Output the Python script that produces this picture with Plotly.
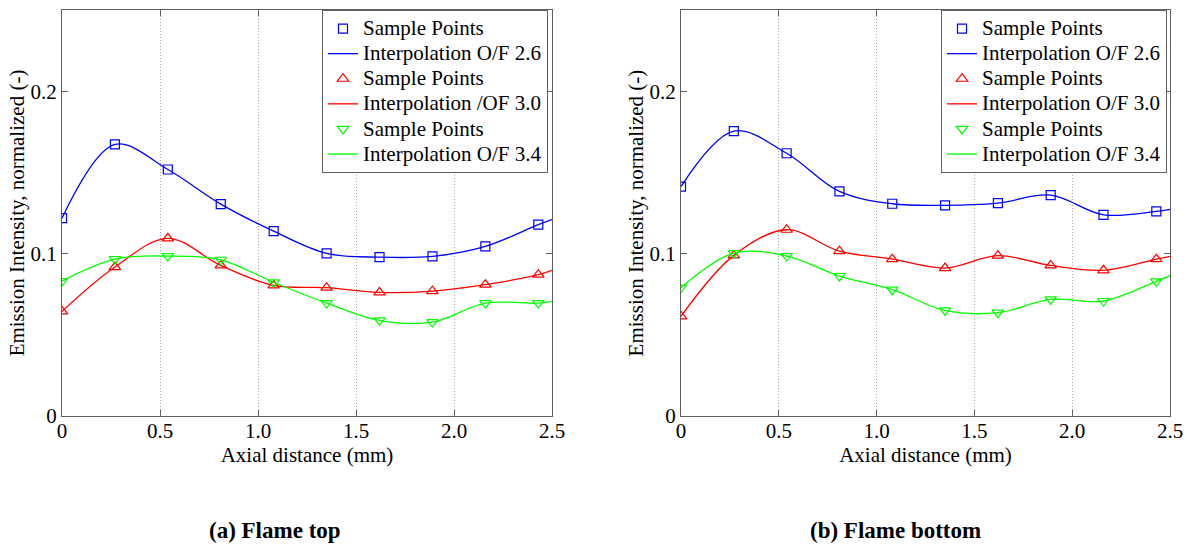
import plotly.graph_objects as go

# ---------------- data ----------------
x_samples = [0.0, 0.27, 0.54, 0.81, 1.08, 1.35, 1.62, 1.89, 2.16, 2.43]
x_end = 2.5  # interpolation curves extend to the axis end

# (a) Flame top
top_of26 = [0.1218, 0.1672, 0.1518, 0.1305, 0.1138, 0.1001, 0.0978, 0.0983, 0.1044, 0.1178]
top_of30 = [0.0644, 0.0917, 0.1094, 0.0927, 0.0804, 0.0790, 0.0761, 0.0769, 0.0809, 0.0870]
top_of34 = [0.0831, 0.0966, 0.0985, 0.0962, 0.0823, 0.0695, 0.0589, 0.0578, 0.0695, 0.0695]
top_end = [0.1209, 0.0897, 0.0706]

# (b) Flame bottom
bot_of26 = [0.1413, 0.1754, 0.1618, 0.1383, 0.1307, 0.1297, 0.1311, 0.1360, 0.1239, 0.1260]
bot_of30 = [0.0614, 0.0989, 0.1147, 0.1015, 0.0966, 0.0911, 0.0987, 0.0927, 0.0897, 0.0966]
bot_of34 = [0.0790, 0.1003, 0.0985, 0.0862, 0.0778, 0.0650, 0.0636, 0.0718, 0.0708, 0.0829]
bot_end = [0.1272, 0.0983, 0.0864]

series_colors = ["#0000ff", "#ff0000", "#00ff00"]
series_symbols = ["square-open", "triangle-up-open", "triangle-down-open"]
top_line_names = ["Interpolation O/F 2.6", "Interpolation /OF 3.0", "Interpolation O/F 3.4"]
bot_line_names = ["Interpolation O/F 2.6", "Interpolation O/F 3.0", "Interpolation O/F 3.4"]
marker_name = "Sample Points"

x_ticks = [0, 0.5, 1.0, 1.5, 2.0, 2.5]
x_ticktext = ["0", "0.5", "1.0", "1.5", "2.0", "2.5"]
y_ticks = [0, 0.1, 0.2]
y_ticktext = ["0", "0.1", "0.2"]

captions = ["<b>(a) Flame top</b>", "<b>(b) Flame bottom</b>"]

FONT = "Liberation Serif"
FRAME = "#606060"
LEG_TXT = '<span style="font-size:21px">{}</span>'

fig = go.Figure()


def add_panel(fig, series, ends, line_names, xa, ya, legend):
    for vals, end, color, sym, lname in zip(series, ends, series_colors, series_symbols, line_names):
        fig.add_trace(go.Scatter(
            x=x_samples, y=vals, mode="markers", name=LEG_TXT.format(marker_name),
            marker=dict(symbol=sym, size=10 if sym != "square-open" else 9,
                        color=color, line=dict(color=color, width=1.2)),
            xaxis=xa, yaxis=ya, legend=legend))
        fig.add_trace(go.Scatter(
            x=x_samples + [x_end], y=vals + [end], mode="lines", name=LEG_TXT.format(lname),
            line=dict(color=color, width=1.3, shape="spline", smoothing=1.0),
            xaxis=xa, yaxis=ya, legend=legend))


add_panel(fig, [top_of26, top_of30, top_of34], top_end, top_line_names, "x", "y", "legend")
add_panel(fig, [bot_of26, bot_of30, bot_of34], bot_end, bot_line_names, "x2", "y2", "legend2")

W, H = 1187, 546
left_dom = [62 / W, 552 / W]
right_dom = [681 / W, 1170 / W]
y_dom = [(H - 416) / H, (H - 10) / H]

xaxis_common = dict(
    range=[0, 2.5], tickvals=x_ticks, ticktext=x_ticktext, automargin=False,
    showline=True, linecolor=FRAME, linewidth=1, mirror="ticks",
    ticks="inside", ticklen=6, tickcolor=FRAME,
    showgrid=True, gridcolor="#a8a8a8", griddash="1px,2px", gridwidth=1,
    zeroline=False, tickfont=dict(family=FONT, size=21, color="black"),
    ticklabelstandoff=-4,
    title=dict(text="Axial distance (mm)", font=dict(family=FONT, size=21, color="black"), standoff=0),
)
yaxis_common = dict(
    range=[0, 0.25], tickvals=y_ticks, ticktext=y_ticktext, automargin=False,
    showline=True, linecolor=FRAME, linewidth=1, mirror="ticks",
    ticks="inside", ticklen=6, tickcolor=FRAME,
    showgrid=False, zeroline=False,
    tickfont=dict(family=FONT, size=21, color="black"),
    title=dict(text="Emission Intensity, normalized (-)",
               font=dict(family=FONT, size=21, color="black"), standoff=0),
)

legend_common = dict(
    xanchor="right", yanchor="top",
    bgcolor="white", bordercolor=FRAME, borderwidth=1,
    font=dict(family=FONT, size=17, color="black"),
    itemwidth=30, tracegroupgap=0,
)

fig.update_layout(
    width=W, height=H,
    margin=dict(l=0, r=0, t=0, b=0),
    paper_bgcolor="white", plot_bgcolor="white",
    font=dict(family=FONT, size=20, color="black"),
    xaxis=dict(domain=left_dom, anchor="y", **xaxis_common),
    yaxis=dict(domain=y_dom, anchor="x", **yaxis_common),
    xaxis2=dict(domain=right_dom, anchor="y2", **xaxis_common),
    yaxis2=dict(domain=y_dom, anchor="x2", **yaxis_common),
    legend=dict(x=548 / W, y=(H - 10) / H, **legend_common),
    legend2=dict(x=1167 / W, y=(H - 10) / H, **legend_common),
    showlegend=True,
)

for text, cx in zip(captions, [275, 895]):
    fig.add_annotation(text=text, x=cx / W, y=(H - 530) / H, xref="paper", yref="paper",
                       xanchor="center", yanchor="middle", showarrow=False,
                       font=dict(family=FONT, size=23, color="black"))

fig.write_html(
    "out.html",
    config={"displayModeBar": False},
    post_script="document.body.style.margin='0';document.body.style.padding='0';"
                "document.body.style.overflow='hidden';",
)
